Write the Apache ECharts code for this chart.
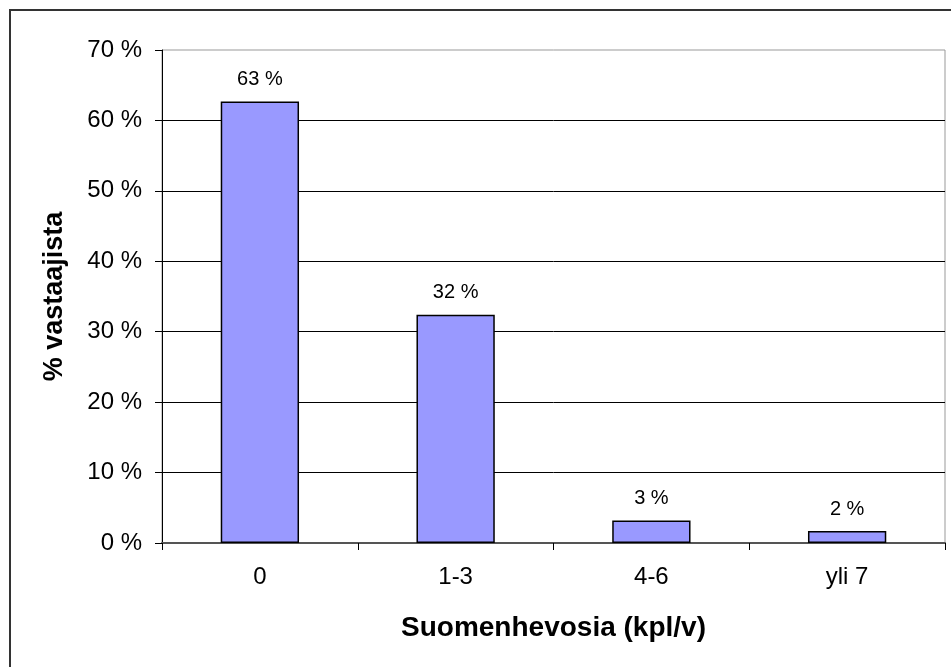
<!DOCTYPE html>
<html>
<head>
<meta charset="utf-8">
<script src="https://cdn.jsdelivr.net/npm/echarts@6/dist/echarts.min.js"></script>
<style>
  html, body { margin: 0; padding: 0; background: #fff; }
  #chart { width: 951px; height: 667px; }
</style>
</head>
<body>
<div id="chart"></div>
<script>
// luokat ja arvot (% vastaajista)
var categories = ['0', '1-3', '4-6', 'yli 7'];
var values = [62.7, 32.4, 3.2, 1.7];
var yTicks = [0, 10, 20, 30, 40, 50, 60, 70];

var chart = echarts.init(document.getElementById('chart'));
var font = 'Liberation Sans, Arial, sans-serif';

var option = {
  backgroundColor: '#fff',
  animation: false,
  graphic: [
    { // kehys, vain ylä- ja vasen reuna näkyy
      type: 'polyline',
      shape: { points: [[10, 667], [10, 10], [951, 10]] },
      style: { stroke: '#333', lineWidth: 2, fill: null }
    }
  ],
  grid: { left: 162, top: 50, right: 6, bottom: 124, show: true, borderColor: '#999', borderWidth: 1 },
  xAxis: {
    type: 'category',
    data: categories,
    name: 'Suomenhevosia (kpl/v)',
    nameLocation: 'middle',
    nameGap: 71,
    nameTextStyle: { fontFamily: font, fontSize: 28, fontWeight: 'bold', color: '#000' },
    axisLine: { lineStyle: { color: '#555', width: 2 } },
    axisTick: { show: true, length: 7, lineStyle: { color: '#000' } },
    axisLabel: { fontFamily: font, fontSize: 24, color: '#000', margin: 22 }
  },
  yAxis: {
    type: 'value',
    min: yTicks[0],
    max: yTicks[yTicks.length - 1],
    interval: 10,
    name: '% vastaajista',
    nameLocation: 'middle',
    nameGap: 94,
    nameTextStyle: { fontFamily: font, fontSize: 27, fontWeight: 'bold', color: '#000' },
    axisLine: { show: true, lineStyle: { color: '#000', width: 1 } },
    axisTick: { show: true, inside: false, length: 7, lineStyle: { color: '#000' } },
    axisLabel: {
      fontFamily: font, fontSize: 24, color: '#000', margin: 20,
      formatter: function (v) { return v + ' %'; }
    },
    splitLine: { showMaxLine: false, lineStyle: { color: '#000', width: 1 } }
  },
  series: [{
    type: 'bar',
    data: values,
    barWidth: '40%',
    itemStyle: { color: '#9999ff', borderColor: '#000', borderWidth: 1.5 },
    label: {
      show: true,
      position: 'top',
      distance: 12,
      fontFamily: font,
      fontSize: 20,
      color: '#000',
      formatter: function (p) { return Math.round(p.value) + ' %'; }
    }
  }]
};

chart.setOption(option);
</script>
</body>
</html>
